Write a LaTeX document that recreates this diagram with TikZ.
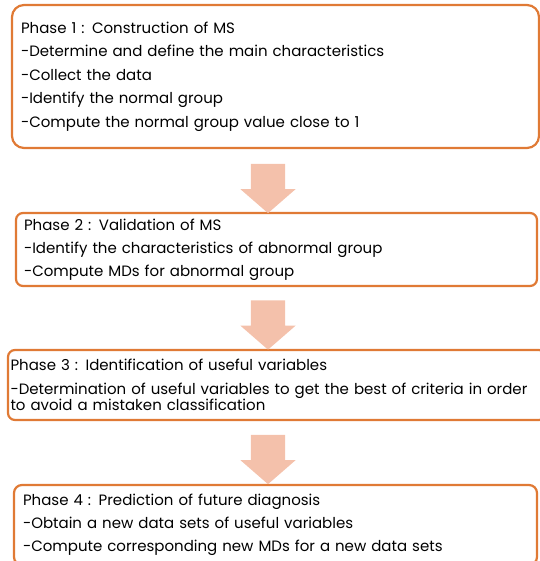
\documentclass[tikz,border=0pt]{standalone}
\usepackage{fontspec}
\setmainfont{Poppins}
\usepackage{tikz}
\usepackage{xcolor}
\usetikzlibrary{shapes.arrows}
\definecolor{phaseorange}{HTML}{E07A35}
\definecolor{arrowpeach}{HTML}{F4C1AB}
\tikzset{
    phase-box/.style = {draw=phaseorange, line width=2.2pt, fill=white, rectangle, rounded corners=7pt, inner ysep=0pt, align=left, anchor=center, font=\fontsize{15}{16.5}\selectfont},
    down-arrow/.style = {single arrow, fill=arrowpeach, draw=none, shape border rotate=270, inner sep=17pt, minimum width=55pt, minimum height=48pt, single arrow head extend=10.5pt, single arrow tip angle=98},
}

\begin{document}
\begin{tikzpicture}[x=1pt,y=1pt]
\useasboundingbox (0,0) rectangle (539,-561);
\node [phase-box, rounded corners=12pt, minimum width=527pt, minimum height=143pt, inner xsep=9pt, text width=509pt] (phase1) at (275.5,-76.5) {Phase 1 : Construction of MS\\[7pt]
    -Determine and define the main characteristics\\[7pt]
    -Collect the data\\[7pt]
    -Identify the normal group\\[7pt]
    -Compute the normal group value close to 1};
\node [phase-box, minimum width=521pt, minimum height=73pt, inner xsep=8pt, text width=505pt] (phase2) at (276.5,-249.5) {Phase 2 : Validation of MS\\[6.5pt]
    -Identify the characteristics of abnormal group\\[6.5pt]
    -Compute MDs for abnormal group};
\node [phase-box, minimum width=538pt, minimum height=70pt, inner xsep=2.5pt, text width=533pt] (phase3) at (277,-385) {Phase 3 : Identification of useful variables\\[7.5pt]
    -Determination of useful variables to get the best of criteria in order\\
    to avoid a mistaken classification};
\node [phase-box, rounded corners=8pt, minimum width=523pt, minimum height=80pt, inner xsep=9pt, text width=505pt] (phase4) at (275.5,-525) {Phase 4 : Prediction of future diagnosis\\[6.5pt]
    -Obtain a new data sets of useful variables\\[6.5pt]
    -Compute corresponding new MDs for a new data sets};
\node [down-arrow] (arrow12) at (268,-181) {};
\node [down-arrow] (arrow23) at (268,-317.5) {};
\node [down-arrow] (arrow34) at (268,-452) {};
\end{tikzpicture}
\end{document}
